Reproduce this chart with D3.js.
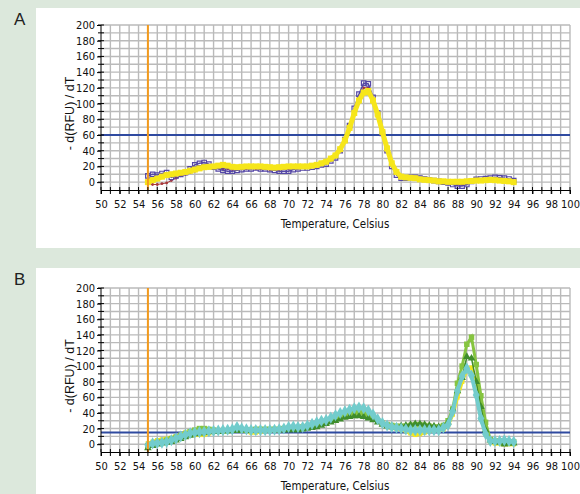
<!DOCTYPE html>
<html lang="en">
<head>
<meta charset="UTF-8">
<title>Melt curves</title>
<script src="https://cdn.jsdelivr.net/npm/d3@7"></script>
<style>
  body { margin: 0; background: #dce8dc; }
  svg { display: block; }
  .tick text { font-family: "Liberation Sans Narrow", "DejaVu Sans Condensed", "Arial Narrow", sans-serif; font-size: 11px; fill: #111; }
  .xtitle { font-family: "Liberation Sans Narrow", "DejaVu Sans Condensed", sans-serif; font-size: 11.5px; fill: #111; }
  .ytitle { font-family: "Liberation Sans", Arial, sans-serif; font-size: 12.5px; fill: #111; }
  .plabel { font-family: "Liberation Sans", Arial, sans-serif; font-size: 17px; fill: #222; }
</style>
</head>
<body>
<svg width="580" height="494"></svg>
<script>
// temperatures, every 0.5 C from 55 to 94
const temps = d3.range(79).map(i => 55 + i * 0.5);

// panel A
const aYellow = [0,2.5,4.5,7,9,10,11,12,13,14.5,16,17.5,19,19.5,20,21,22,21,19.5,19,19.5,20,20,20,20,19.5,19,18.5,19,19.5,20,20,20,20,20,21,22,24,26,30,34,42,53,69,88,104,114,116,104,86,64,43,24,13,7,6,5.5,5,3.5,3,2.5,2,1,1,0.5,0.5,0.5,0.5,1,1.5,2,2,2.5,3,2.5,2,1.5,1,0];
const aPurple = [8,10,9,11,12,6,8,10,12,17,22,24,25,23,19,17,15,14,14,15,16,17,17,18,17,17,16,15,14,14,14,16,17,18,18,19,20,22,23,27,31,40,54,72,94,112,126,125,108,88,62,40,20,9,5,5,6,6,5,4,3,2,1,0,-1,-3,-5,-5,-3,1,3.5,4,4.5,5,6,5.5,5,4,2];
const aRed = [-2,-3,-3,-2,-1,2,5,8,10,12,14,16,18,18,18,18,17,17,16,16,17,17,18,17,17,17,16,16,16,17,17,18,18,19,19,20,21,23,25,28,33,41,53,70,90,108,120,120,106,87,63,42,22,11,6,5,5,4,4,3,2,2,1,0,-1,-2,-3,-3,-2,0,2,3,3,4,4,3,3,2,1];

// panel B
const bYellow = [1,3,5,6,7,8,10,12,15,14,12,12,12,14,17,18,18,18,18,18,18,17,15,15,16,17,18,18,18,19,20,20,20,21,22,23,25,27,29,32,34,37,39,40,41,41,40,37,33,29,26,23,21,20,19,17,14,12,13,15,17,18,18,19,24,38,60,80,95,98,80,45,15,3,1,1,0,0,0];
const bLight = [-2,0,2,3,5,7,9,11,13,16,18,20,20,19,18,17,17,17,18,18,18,18,18,19,19,19,19,19,19,20,20,20,21,22,23,24,25,27,29,31,33,36,38,40,41,41,40,38,34,30,27,25,24,23,23,23,24,25,25,24,23,22,22,24,30,45,78,100,128,137,102,62,28,6,4,4,4,3,3];
const bDark = [-5,-2,0,1,2,3,5,7,9,11,13,14,15,15.5,16,16,17,17,17,17,18,18,17,17,18,18,18,18,18,18,18,18,18,19,20,21,22,24,26,28,30,32,34,35,36,36,35,33,31,28,25,23,22,22,23,24,25,26,26,25,24,23,22,23,28,45,68,85,112,110,80,48,18,5,3,2,0,1,1];
const bCyan = [-1,1,1.5,2,3,5,7.5,10,12,14,15,15.5,16,16.5,17,17.5,18,18.5,19,22,20,19,18,18,18,18,18,18.5,19,20,22,22.5,22,22,24,26,28,30,31,34,37,40,42,44,46,47,46,43,38,32,27,24,22,21,20,19,18,18,18,18,18,18,18,21,25,42,68,87,97,88,63,33,13,4,4,4,5,4,3];

const xTicks = d3.range(50, 101, 2);
const yTicks = d3.range(0, 201, 20);

const panels = [
  { label: "A", top: 8, h: 240, yTop: 25, yBot: 190, threshold: 60,
    series: [
      { v: aRed, color: "#a8383a", lw: 1, shape: "circle", size: 2.5, fill: true },
      { v: aPurple, color: "#5547a6", lw: 1.5, shape: "square", size: 4.5, fill: false },
      { v: aYellow, color: "#f6e61a", lw: 5, shape: "square", size: 6, fill: true }
    ] },
  { label: "B", top: 268, h: 226, yTop: 288, yBot: 452, threshold: 15,
    series: [
      { v: bYellow, color: "#f3e620", lw: 3.5, shape: "square", size: 4.5, fill: true },
      { v: bLight, color: "#86c440", lw: 3, shape: "square", size: 5.5, fill: true },
      { v: bDark, color: "#3f8d2c", lw: 1.5, shape: "triangle", size: 5, fill: true },
      { v: bCyan, color: "#72cccc", lw: 4, shape: "diamond", size: 6.5, fill: true }
    ] }
];

const svg = d3.select("svg");
const x = d3.scaleLinear().domain([50, 100]).range([101, 570]);

panels.forEach(p => {
  const y = d3.scaleLinear().domain([-10, 200]).range([p.yBot, p.yTop]);
  const g = svg.append("g");

  g.append("rect").attr("x", 36).attr("y", p.top).attr("width", 544).attr("height", p.h).attr("fill", "#fff");
  g.append("text").attr("class", "plabel").attr("x", 14).attr("y", p.top + 17).text(p.label);

  // grid
  g.append("g").selectAll("line").data(d3.range(51, 101)).join("line")
    .attr("x1", d => x(d)).attr("x2", d => x(d))
    .attr("y1", y(200)).attr("y2", y(-10))
    .attr("stroke", "#bababa").attr("stroke-width", 1.4);
  g.append("g").selectAll("line").data(d3.range(0, 201, 10)).join("line")
    .attr("x1", x(50)).attr("x2", x(100))
    .attr("y1", d => y(d)).attr("y2", d => y(d))
    .attr("stroke", "#bababa").attr("stroke-width", 1.4);

  // threshold line
  g.append("line").attr("x1", x(50)).attr("x2", x(100))
    .attr("y1", y(p.threshold)).attr("y2", y(p.threshold))
    .attr("stroke", "#2f4aa0").attr("stroke-width", 2);

  // series
  p.series.forEach(s => {
    const pts = temps.map((t, i) => [t, s.v[i]]);
    g.append("path").datum(pts)
      .attr("fill", "none").attr("stroke", s.color).attr("stroke-width", s.lw)
      .attr("d", d3.line().x(d => x(d[0])).y(d => y(d[1])));
    const symType = s.shape === "circle" ? d3.symbolCircle
      : s.shape === "triangle" ? d3.symbolTriangle
      : s.shape === "diamond" ? d3.symbolDiamond : d3.symbolSquare;
    g.append("g").selectAll("path").data(pts).join("path")
      .attr("transform", d => `translate(${x(d[0])},${y(d[1])})`)
      .attr("d", d3.symbol().type(symType).size(s.size * s.size))
      .attr("fill", s.fill ? s.color : "none")
      .attr("stroke", s.color).attr("stroke-width", s.fill ? 0 : 1.2);
  });

  // start line
  g.append("line").attr("x1", x(55)).attr("x2", x(55))
    .attr("y1", y(200)).attr("y2", y(-10))
    .attr("stroke", "#f39a1c").attr("stroke-width", 2);

  // axes
  const xa = g.append("g").attr("transform", `translate(0,${y(-10)})`)
    .call(d3.axisBottom(x).tickValues(xTicks).tickSize(4).tickPadding(6).tickFormat(d3.format("d")));
  xa.select(".domain").attr("stroke", "#000");
  g.append("g").selectAll("line").data(d3.range(50, 101)).join("line")
    .attr("x1", d => x(d)).attr("x2", d => x(d))
    .attr("y1", y(-10) - 3).attr("y2", y(-10) + 4).attr("stroke", "#000");

  const ya = g.append("g").attr("transform", `translate(${x(50)},0)`)
    .call(d3.axisLeft(y).tickValues(yTicks).tickSize(4).tickPadding(2).tickFormat(d3.format("d")));
  ya.select(".domain").attr("stroke", "#000").attr("d", `M0,${y(200)}V${y(-10)}`);
  g.append("g").selectAll("line").data(d3.range(0, 201, 10)).join("line")
    .attr("x1", x(50) - 3).attr("x2", x(50) + 3)
    .attr("y1", d => y(d)).attr("y2", d => y(d)).attr("stroke", "#000");

  g.append("text").attr("class", "xtitle").attr("text-anchor", "middle")
    .attr("x", 335).attr("y", y(-10) + 38).text("Temperature, Celsius");
  g.append("text").attr("class", "ytitle").attr("text-anchor", "middle")
    .attr("transform", `translate(74,${(y(200) + y(-10)) / 2 + 6}) rotate(-90)`)
    .text("- d(RFU) / dT");
});
</script>
</body>
</html>
